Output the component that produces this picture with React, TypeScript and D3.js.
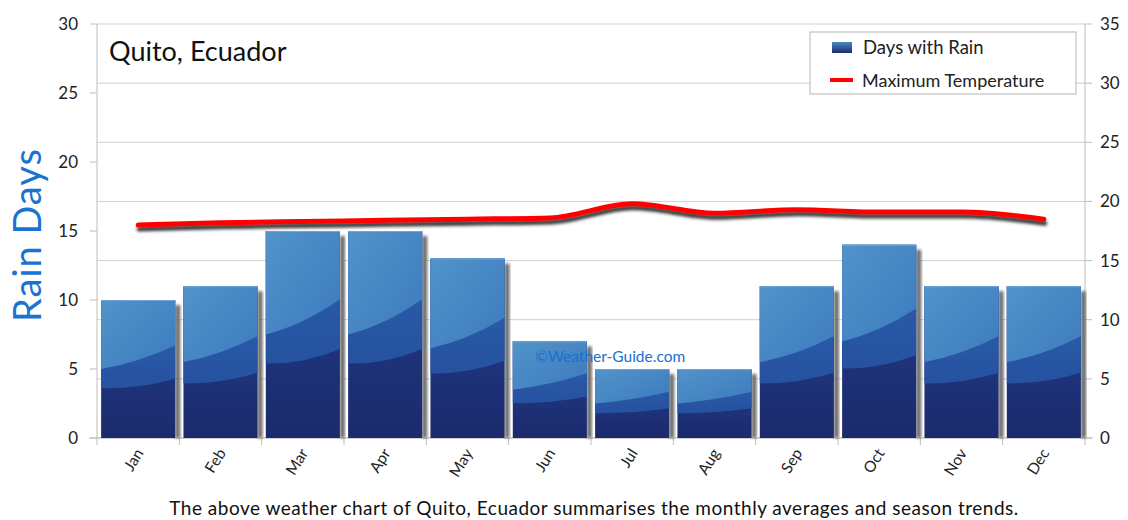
import React from 'react';
import * as d3 from 'd3';

const months = ['Jan', 'Feb', 'Mar', 'Apr', 'May', 'Jun', 'Jul', 'Aug', 'Sep', 'Oct', 'Nov', 'Dec'];
const rainDays = [10, 11, 15, 15, 13, 7, 5, 5, 11, 14, 11, 11];
const maxTemp = [18.0, 18.2, 18.3, 18.4, 18.5, 18.6, 19.8, 19.0, 19.3, 19.1, 19.1, 18.5];
const leftTicks = [0, 5, 10, 15, 20, 25, 30];
const rightTicks = [0, 5, 10, 15, 20, 25, 30, 35];

const FONT = 'Lato, "Open Sans", sans-serif';

export default function App() {
    const width = 1128;
    const height = 520;
    const left = 97;
    const right = 1085;
    const top = 24;
    const bottom = 438;

    const x = d3.scaleBand().domain(months).range([left, right]).paddingInner(0.1).paddingOuter(0.05);
    const band = d3.scaleBand().domain(months).range([left, right]);
    const yL = d3.scaleLinear().domain([0, 30]).range([bottom, top]);
    const yR = d3.scaleLinear().domain([0, 35]).range([bottom, top]);

    const line = d3.line<number>()
        .curve(d3.curveMonotoneX)
        .x((d, i) => band(months[i])! + band.bandwidth() / 2)
        .y(d => yR(d));
    const lineD = line(maxTemp) || '';

    // curved layers inside a bar, as fractions of its height
    const layer = (x0: number, x1: number, yt: number, yb: number, fl: number, fr: number) => {
        const h = yb - yt;
        const a = yt + fl * h;
        const b = yt + fr * h;
        const cx = x0 + (x1 - x0) * 0.5;
        const cy = yt + ((fl + fr) / 2 + 0.04) * h;
        return `M${x0},${yt}H${x1}V${b}Q${cx},${cy} ${x0},${a}Z`;
    };

    return <svg width={width} height={height} style={{position: 'absolute', left: 0, top: 0}} fontFamily={FONT}>
        <defs>
            <linearGradient id="dark" x1="0" y1="0" x2="0" y2="1">
                <stop offset="0" stopColor="#22408f"/>
                <stop offset="1" stopColor="#1b2a6c"/>
            </linearGradient>
            <linearGradient id="mid" x1="0" y1="0" x2="0" y2="1">
                <stop offset="0" stopColor="#2d60ac"/>
                <stop offset="1" stopColor="#2652a0"/>
            </linearGradient>
            <linearGradient id="light" x1="0" y1="0" x2="1" y2="1">
                <stop offset="0" stopColor="#5193ca"/>
                <stop offset="1" stopColor="#3d7bbe"/>
            </linearGradient>
            <linearGradient id="legendBar" x1="0" y1="0" x2="0" y2="1">
                <stop offset="0" stopColor="#4a88c4"/>
                <stop offset="1" stopColor="#1c2c70"/>
            </linearGradient>
            <filter id="blur" x="-20%" y="-20%" width="140%" height="140%">
                <feGaussianBlur stdDeviation="1.5"/>
            </filter>
        </defs>

        {/* grid lines follow the right axis */}
        {rightTicks.map(t => <line key={'g' + t} x1={left} x2={right} y1={yR(t)} y2={yR(t)} stroke="#cfcfcf" strokeWidth={1}/>)}

        {/* axes */}
        <line x1={left} x2={left} y1={top} y2={bottom} stroke="#bdbdbd"/>
        <line x1={right} x2={right} y1={top} y2={bottom} stroke="#bdbdbd"/>
        <line x1={left - 8} x2={right + 8} y1={bottom} y2={bottom} stroke="#bdbdbd"/>
        {leftTicks.map(t => <g key={'l' + t}>
            <line x1={left - 7} x2={left} y1={yL(t)} y2={yL(t)} stroke="#bdbdbd"/>
            <text x={left - 19} y={yL(t)} dy="0.35em" textAnchor="end" fontSize={17} fill="#222">{t}</text>
        </g>)}
        {rightTicks.map(t => <g key={'r' + t}>
            <line x1={right} x2={right + 7} y1={yR(t)} y2={yR(t)} stroke="#bdbdbd"/>
            <text x={right + 15} y={yR(t)} dy="0.35em" textAnchor="start" fontSize={17} fill="#222">{t}</text>
        </g>)}
        {months.map(m => <line key={'xt' + m} x1={band(m)!} x2={band(m)!} y1={bottom} y2={bottom + 7} stroke="#bdbdbd"/>)}
        <line x1={right} x2={right} y1={bottom} y2={bottom + 7} stroke="#bdbdbd"/>

        {/* bars */}
        {rainDays.map((v, i) => {
            const x0 = x(months[i])!;
            const x1 = x0 + x.bandwidth();
            const yt = yL(v);
            return <g key={'b' + i}>
                <rect x={x1} y={yt + 5} width={5} height={bottom - yt - 5} fill="#6a6a6a" filter="url(#blur)"/>
                <rect x={x0} y={yt} width={x1 - x0} height={bottom - yt} fill="url(#dark)"/>
                <path d={layer(x0, x1, yt, bottom, 0.64, 0.57)} fill="url(#mid)"/>
                <path d={layer(x0, x1, yt, bottom, 0.5, 0.33)} fill="url(#light)"/>
                <line x1={x0} x2={x1} y1={yt + 0.5} y2={yt + 0.5} stroke="#6ea6d8" strokeWidth={1}/>
            </g>;
        })}

        {/* temperature line */}
        <path d={lineD} fill="none" stroke="#3a3a3a" strokeWidth={5} transform="translate(1,4)" filter="url(#blur)" strokeLinecap="round"/>
        <path d={lineD} fill="none" stroke="#ff0000" strokeWidth={5} strokeLinecap="round"/>

        {/* title */}
        <text x={109} y={61} fontSize={27} fill="#111">Quito, Ecuador</text>

        {/* watermark */}
        <text x={535} y={362} fontSize={15.5} fill="#1a6fd0">©Weather-Guide.com</text>

        {/* legend */}
        <rect x={810} y={32} width={266} height={62} fill="#fff" stroke="#b5b5b5"/>
        <rect x={832} y={42} width={20} height={11} fill="url(#legendBar)"/>
        <text x={863} y={48} dy="0.35em" fontSize={18.5} fill="#222">Days with Rain</text>
        <line x1={830} x2={853} y1={80} y2={80} stroke="#ff0000" strokeWidth={4}/>
        <text x={862} y={81} dy="0.35em" fontSize={18} fill="#222">Maximum Temperature</text>

        {/* y title */}
        <text transform={`translate(41,${(top + bottom) / 2 + 4}) rotate(-90)`} textAnchor="middle" fontSize={38} letterSpacing={1} fill="#1a73d0">Rain Days</text>

        {/* month labels */}
        {months.map(m => <text key={'m' + m} transform={`translate(${band(m)! + band.bandwidth() / 2 + 6},${bottom + 15}) rotate(-58)`}
                               textAnchor="end" fontSize={15.5} fill="#222">{m}</text>)}

        {/* caption */}
        <text x={594} y={515} textAnchor="middle" fontSize={19} letterSpacing={0.5} fill="#111">The above weather chart of Quito, Ecuador summarises the monthly averages and season trends.</text>
    </svg>;
}
